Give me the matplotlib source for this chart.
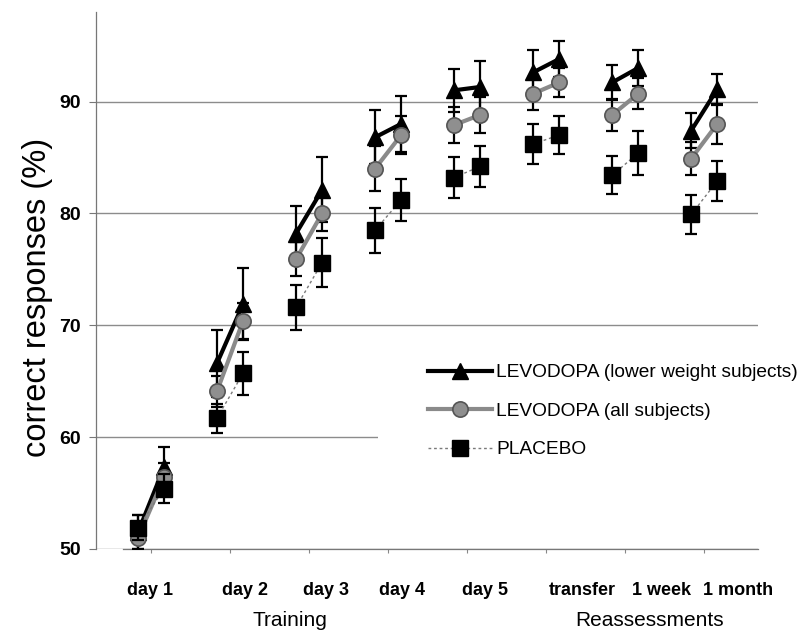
import matplotlib
matplotlib.use('Agg')
import matplotlib.pyplot as plt
from matplotlib.patches import Rectangle

plt.rcParams['font.family'] = ['Liberation Sans', 'DejaVu Sans']

# ---------------- data ----------------
sessions = ['day 1', 'day 2', 'day 3', 'day 4', 'day 5', 'transfer', '1 week', '1 month']
phases = ['Training', 'Reassessments']
yticks = [50, 60, 70, 80, 90]

# two measurements per session (first, second)
lower_mean = [51.5, 57.3, 66.6, 71.9, 78.2, 82.1, 86.8, 88.0,
              91.0, 91.3, 92.6, 93.8, 91.7, 93.0, 87.4, 91.1]
lower_err = [1.5, 1.8, 3.0, 3.2, 2.5, 2.9, 2.4, 2.5,
             1.9, 2.3, 2.0, 1.6, 1.6, 1.6, 1.6, 1.4]

all_mean = [51.0, 56.4, 64.1, 70.4, 75.9, 80.0, 84.0, 87.0,
            87.9, 88.8, 90.7, 91.7, 88.8, 90.7, 84.9, 88.0]
all_err = [1.0, 1.3, 1.4, 1.6, 1.5, 1.6, 2.0, 1.7,
           1.6, 1.6, 1.5, 1.3, 1.4, 1.4, 1.5, 1.8]

placebo_mean = [51.9, 55.4, 61.7, 65.7, 71.6, 75.6, 78.5, 81.2,
                83.2, 84.2, 86.2, 87.0, 83.4, 85.4, 79.9, 82.9]
placebo_err = [1.1, 1.3, 1.3, 1.9, 2.0, 2.2, 2.0, 1.9,
               1.8, 1.8, 1.8, 1.7, 1.7, 2.0, 1.7, 1.8]

series_labels = ['LEVODOPA (lower weight subjects)', 'LEVODOPA (all subjects)', 'PLACEBO']

# ---------------- layout ----------------
W, H = 806, 636
fig = plt.figure(figsize=(W / 100, H / 100), dpi=100)
ax = fig.add_axes([96 / W, 1 - 549 / H, (758 - 96) / W, (549 - 12) / H])

pair_off = 0.165
label_shift = [-0.01, 0.19, 0.22, 0.18, 0.23, 0.46, 0.46, 0.43]

styles = [
    dict(color='black', lw=3.0, ls='-', marker='^', ms=11.5, mfc='black', mec='black', zorder=4),
    dict(color='#8a8a8a', lw=3.0, ls='-', marker='o', ms=11, mfc='#8f8f8f', mec='#555555', mew=1.2, zorder=5),
    dict(color='#7a7a7a', lw=1.0, ls=(0, (2, 2)), marker='s', ms=11.5, mfc='black', mec='black', zorder=6),
]
data = [(lower_mean, lower_err), (all_mean, all_err), (placebo_mean, placebo_err)]

handles = []
for (means, errs), st, lab in zip(data, styles, series_labels):
    for i in range(len(sessions)):
        xs = [i - pair_off, i + pair_off]
        ys = means[2 * i:2 * i + 2]
        es = errs[2 * i:2 * i + 2]
        z = st['zorder']
        ax.errorbar(xs, ys, yerr=es, fmt='none', ecolor='black', elinewidth=1.6,
                    capsize=4, capthick=1.6, zorder=z - 0.5)
        ln, = ax.plot(xs, ys, color=st['color'], lw=st['lw'], ls=st['ls'],
                      marker=st['marker'], ms=st['ms'], mfc=st['mfc'], mec=st['mec'],
                      mew=st.get('mew', 1.0), zorder=z)
    handles.append(ln)

ax.set_ylim(50, 98)
ax.set_xlim(-0.696, 7.68)

ax.set_yticks(yticks)
ax.set_yticklabels([str(v) for v in yticks], fontsize=14, fontweight='bold')
ax.yaxis.grid(True, color='#8c8c8c', lw=1.0)
ax.set_axisbelow(True)
ax.tick_params(axis='y', direction='out', length=5, width=0.8, color='#777777', pad=6)

ax.set_xticks([i + s for i, s in enumerate(label_shift)])
ax.set_xticklabels(sessions, fontsize=13, fontweight='bold')
ax.tick_params(axis='x', length=0, pad=24)
ax.set_xticks(list(range(len(sessions))), minor=True)
ax.tick_params(axis='x', which='minor', length=3, color='#888888', width=0.8)

for s in ['top', 'right']:
    ax.spines[s].set_visible(False)
ax.spines['left'].set_color('#777777')
ax.spines['left'].set_linewidth(0.9)
ax.spines['bottom'].set_color('#777777')
ax.spines['bottom'].set_linewidth(0.9)
ax.spines['bottom'].set_bounds(-0.35, 7.68)

# white area behind legend (covers part of grid, as in reference)
ax.add_patch(Rectangle(((378 - 96) / 662, (549 - 472) / 537), 1.0, (472 - 340) / 537,
                       transform=ax.transAxes, facecolor='white', edgecolor='none',
                       zorder=1, clip_on=False))

leg = ax.legend(handles, series_labels, loc='upper left',
                bbox_to_anchor=(428 / W, 1 - 364 / H), bbox_transform=fig.transFigure,
                frameon=False, fontsize=13.8, handlelength=3.35, handletextpad=0.2,
                labelspacing=1.1, borderpad=0, borderaxespad=0)

fig.text(38 / W, 1 - 297 / H, 'correct responses (%)', rotation=90,
         ha='center', va='center', fontsize=23.5)
fig.text(290 / W, 1 - 620 / H, phases[0], ha='center', va='center', fontsize=15)
fig.text(650 / W, 1 - 620 / H, phases[1], ha='center', va='center', fontsize=15)

fig.savefig('out.png', dpi=100)
